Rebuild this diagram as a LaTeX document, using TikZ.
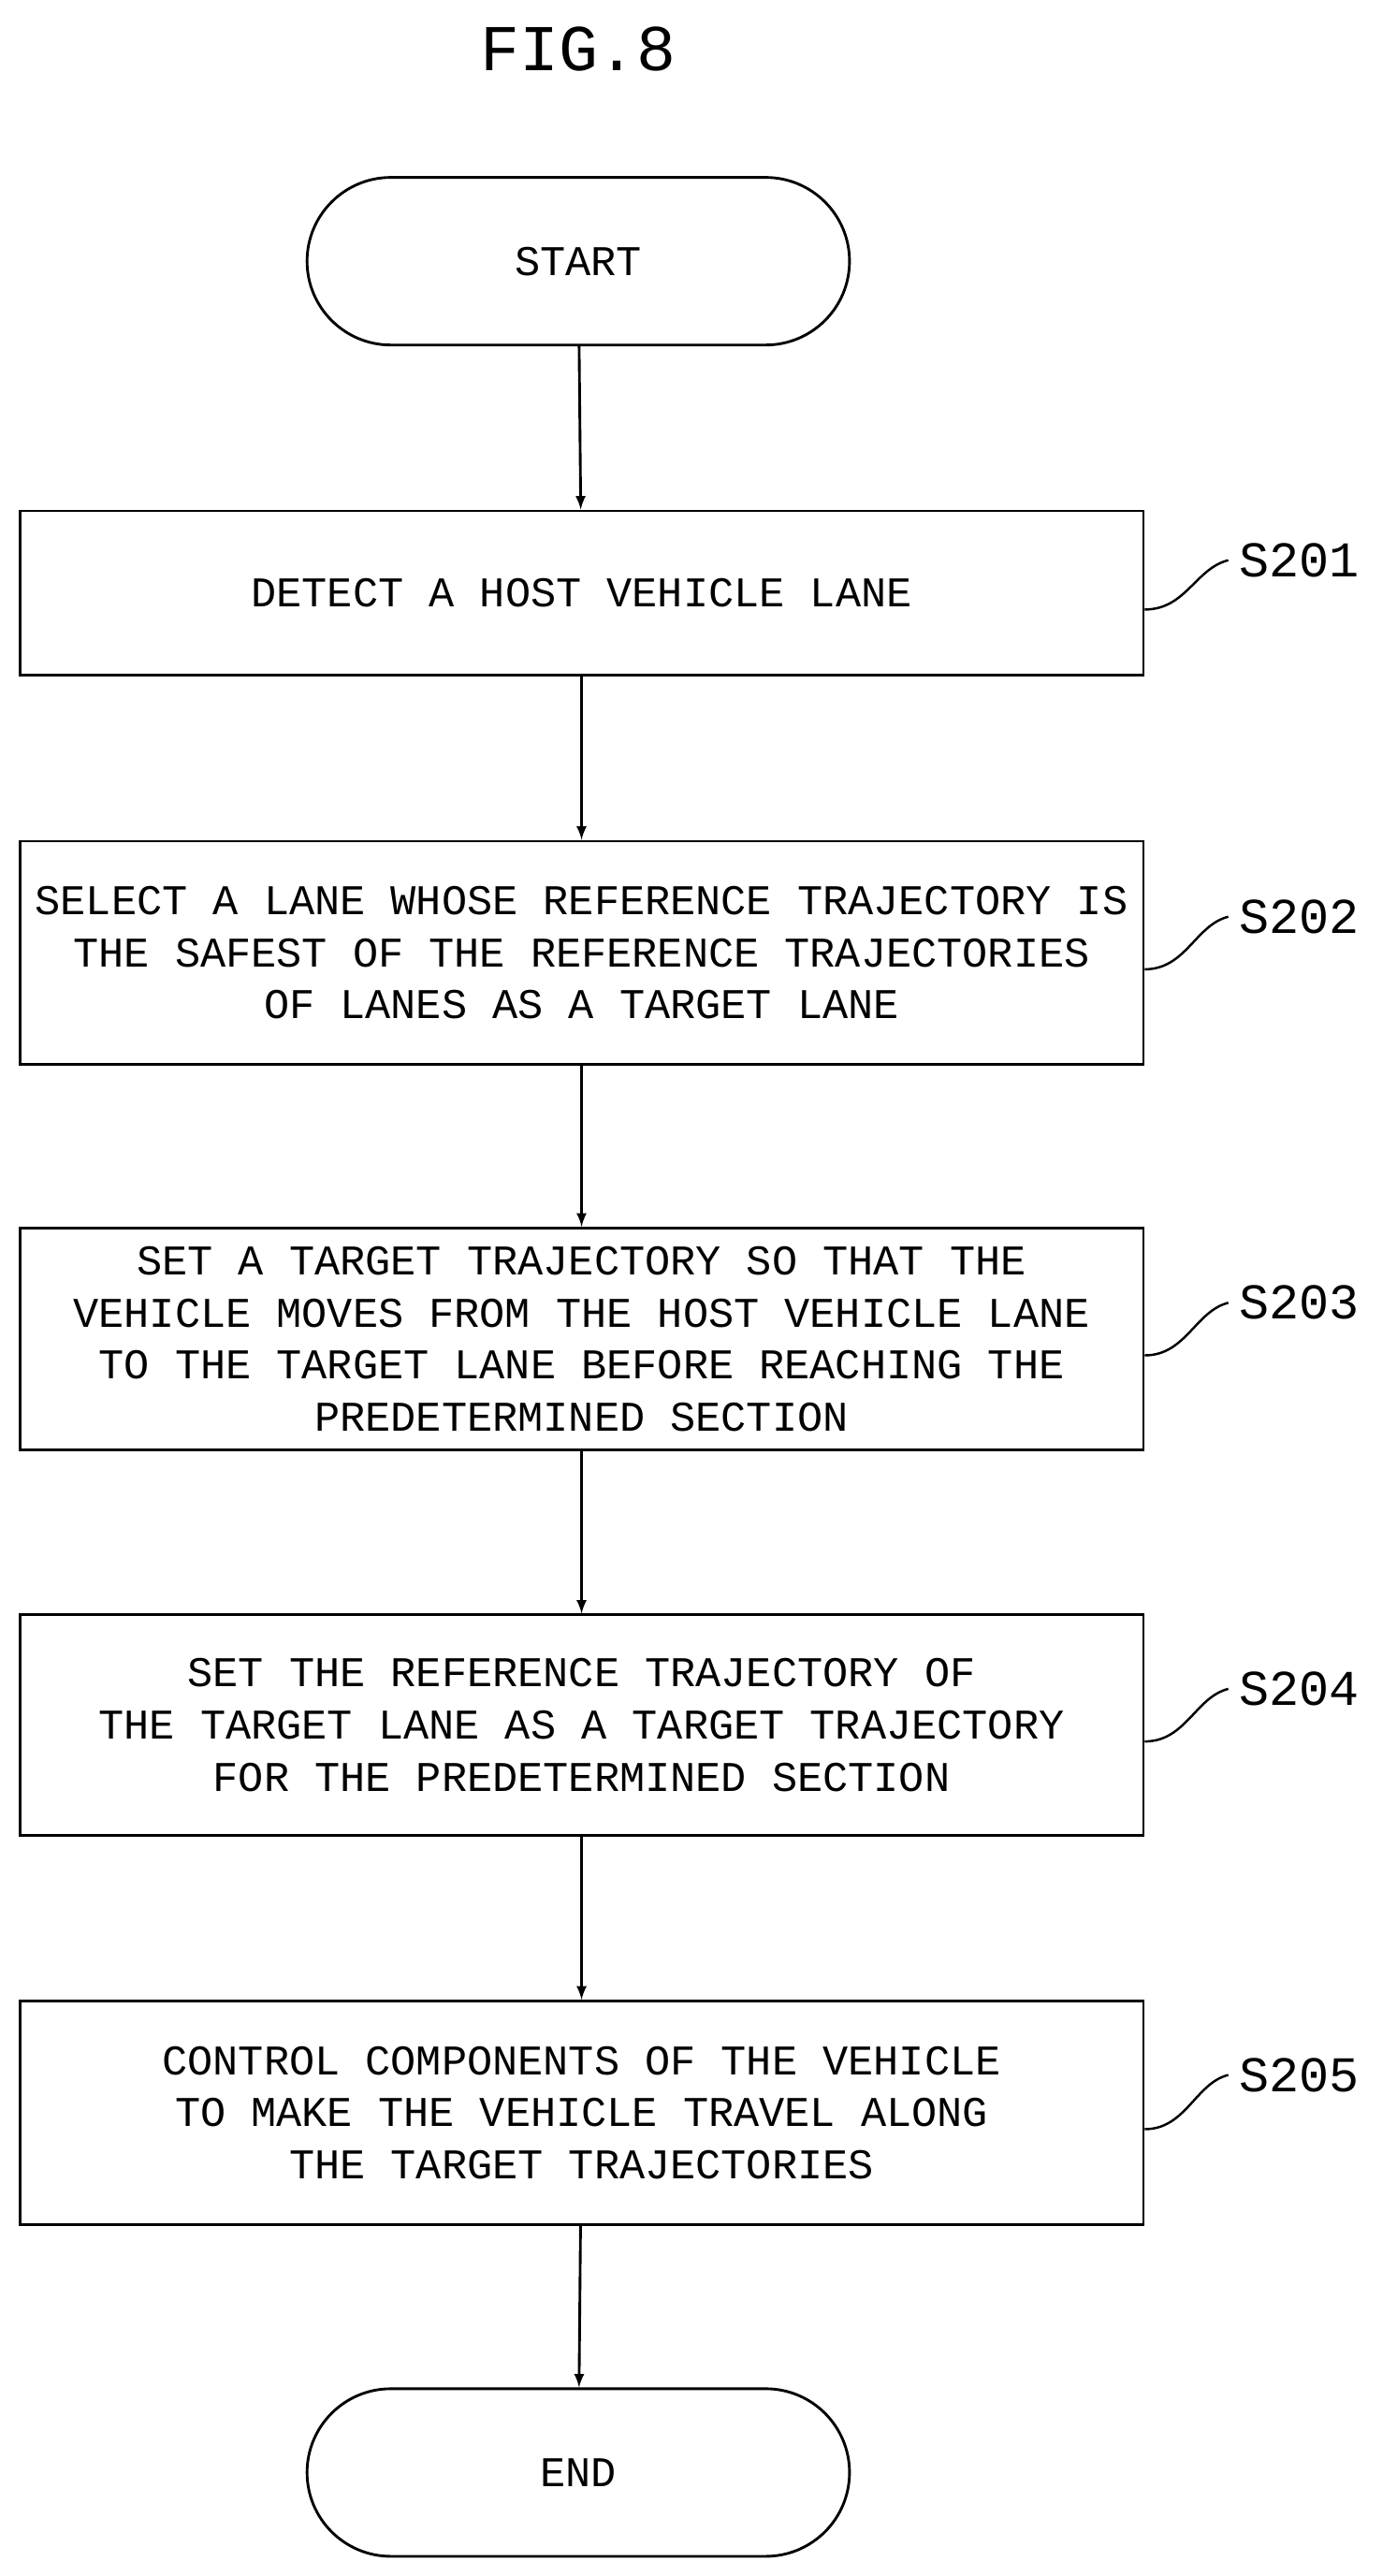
\documentclass[tikz,border=0pt]{standalone}
\usepackage{fontspec}
\setmainfont{Liberation Mono}
\usetikzlibrary{shapes.misc}
\tikzset{
stepbox/.style={draw,line width=1.4pt,minimum width=684*0.03cm,align=center,
  font=\fontsize{22}{27}\selectfont},
term/.style={draw,line width=1.4pt,rounded rectangle,minimum width=338*0.03cm,
  minimum height=102*0.03cm,font=\fontsize{22}{27}\selectfont},
flow/.style={line width=1.4pt,-latex},
lead/.style={line width=1.2pt},
tag/.style={font=\fontsize{26}{30}\selectfont,anchor=west},
}
\begin{document}
\begin{tikzpicture}[x=0.03cm,y=-0.03cm]
\useasboundingbox (0,0) rectangle (850,1568);
% title
\node[font=\fontsize{34}{40}\selectfont] (title) at (352,30) {FIG.8};
% start and end
\node[term] (start) at (352,159) {START};
\node[term] (end) at (352,1505) {END};
% the steps
\node[stepbox,minimum height=100*0.03cm] (s201) at (354,361) {DETECT A HOST VEHICLE LANE};
\node[stepbox,minimum height=136*0.03cm] (s202) at (354,580) {SELECT A LANE WHOSE REFERENCE TRAJECTORY IS\\THE SAFEST OF THE REFERENCE TRAJECTORIES\\OF LANES AS A TARGET LANE};
\node[stepbox,minimum height=135*0.03cm] (s203) at (354,815) {SET A TARGET TRAJECTORY SO THAT THE\\VEHICLE MOVES FROM THE HOST VEHICLE LANE\\TO THE TARGET LANE BEFORE REACHING THE\\PREDETERMINED SECTION};
\node[stepbox,minimum height=134*0.03cm] (s204) at (354,1050) {SET THE REFERENCE TRAJECTORY OF\\THE TARGET LANE AS A TARGET TRAJECTORY\\FOR THE PREDETERMINED SECTION};
\node[stepbox,minimum height=136*0.03cm] (s205) at (354,1286) {CONTROL COMPONENTS OF THE VEHICLE\\TO MAKE THE VEHICLE TRAVEL ALONG\\THE TARGET TRAJECTORIES};
% the arrows
\draw[flow] (start) -- (s201);
\draw[flow] (s201) -- (s202);
\draw[flow] (s202) -- (s203);
\draw[flow] (s203) -- (s204);
\draw[flow] (s204) -- (s205);
\draw[flow] (s205) -- (end);
% the step labels
\foreach \s/\y in {201/341,202/558,203/793,204/1028,205/1263}
{
  \node[tag] (t\s) at (750,\y) {S\s};
  \draw[lead] (s\s.east) ++(0,10) .. controls +(25,0) and +(-20,5) .. ([xshift=-2]t\s.west);
}
\end{tikzpicture}
\end{document}
